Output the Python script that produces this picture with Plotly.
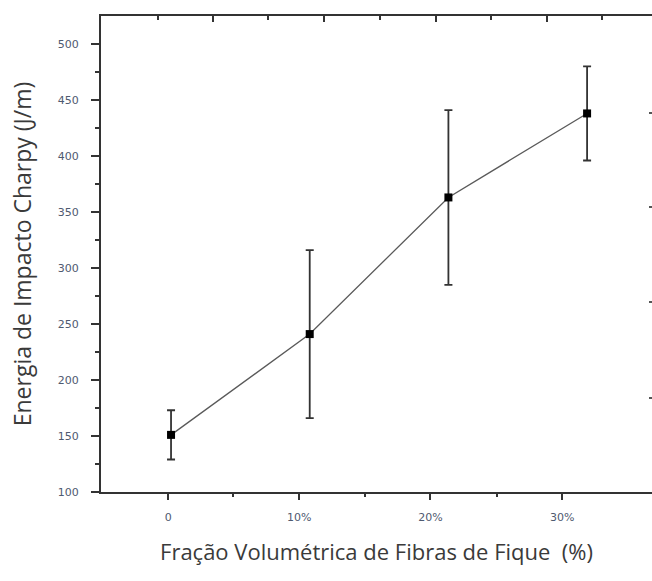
import plotly.graph_objects as go

# Data
fractions = [0, 10, 20, 30]                 # % fibre volume fraction
tick_labels = ["0", "10%", "20%", "30%"]
impact_energy = [151, 241, 363, 438]        # J/m
impact_error = [22, 75, 78, 42]             # J/m

fig = go.Figure()

fig.add_trace(go.Scatter(
    x=fractions, y=impact_energy,
    mode="lines+markers",
    line=dict(color="#5a5a5a", width=1.3),
    marker=dict(symbol="square", size=8, color="black"),
    error_y=dict(type="data", array=impact_error, visible=True,
                 color="#333333", thickness=1.8, width=4),
    showlegend=False,
))

# dummy trace to activate decorative top / right tick axes
fig.add_trace(go.Scatter(x=[None], y=[None], xaxis="x2", yaxis="y2",
                         showlegend=False, hoverinfo="skip"))

tick_font = dict(family="DejaVu Sans", size=11, color="#4f5a70")
title_font = dict(family="Open Sans", size=22, color="#3a3a3a")

fig.update_layout(
    width=652, height=581,
    margin=dict(l=101, r=0, t=16, b=89, autoexpand=False),
    paper_bgcolor="white", plot_bgcolor="white",
    xaxis=dict(
        range=[-5.05, 34.68], automargin=False,
        tickmode="array",
        tickvals=[-0.2, 9.25, 18.7, 28.2],
        ticktext=tick_labels,
        ticks="outside", ticklen=6, tickwidth=2, tickcolor="#333333",
        minor=dict(tickmode="array", tickvals=[4.5, 14.0, 23.5],
                   ticks="outside", ticklen=3, tickwidth=2,
                   tickcolor="#333333", showgrid=False),
        showline=True, linecolor="#333333", linewidth=2,
        showgrid=False, zeroline=False,
        tickfont=tick_font, ticklabelstandoff=8,
        title=dict(text="Fração Volumétrica de Fibras de Fique\u00a0\u00a0(%)",
                   font=title_font, standoff=21),
    ),
    yaxis=dict(
        range=[100, 525], automargin=False,
        tickmode="array",
        tickvals=[100, 150, 200, 250, 300, 350, 400, 450, 500],
        ticks="outside", ticklen=8, tickwidth=2, tickcolor="#333333",
        minor=dict(tickmode="array",
                   tickvals=[125, 175, 225, 275, 325, 375, 425, 475],
                   ticks="outside", ticklen=4, tickwidth=2,
                   tickcolor="#333333", showgrid=False),
        showline=True, linecolor="#333333", linewidth=2,
        showgrid=False, zeroline=False,
        tickfont=tick_font, ticklabelstandoff=10,
        title=dict(text="Energia de Impacto Charpy (J/m)",
                   font=dict(family="Open Sans", size=23, color="#3a3a3a"),
                   standoff=20),
    ),
    xaxis2=dict(
        overlaying="x", side="top", range=[0, 551], automargin=False,
        tickmode="array", tickvals=[111.7, 223, 334.5, 446],
        ticks="inside", ticklen=6, tickwidth=2, tickcolor="#333333",
        minor=dict(tickmode="array", tickvals=[57, 167, 279, 389.5, 501],
                   ticks="inside", ticklen=4, tickwidth=2,
                   tickcolor="#333333", showgrid=False),
        showticklabels=False, showline=True, linecolor="#333333",
        linewidth=2, showgrid=False, zeroline=False,
    ),
    yaxis2=dict(
        overlaying="y", side="right", range=[0, 476], automargin=False,
        tickmode="array", tickvals=[94, 190, 285, 379],
        ticks="inside", ticklen=3, tickwidth=2, tickcolor="#555555",
        showticklabels=False, showline=False, showgrid=False,
        zeroline=False,
    ),
)

fig.write_html(
    "out.html",
    config={"displayModeBar": False},
    post_script="document.body.style.margin='0px';"
                "document.body.style.overflow='hidden';",
)
